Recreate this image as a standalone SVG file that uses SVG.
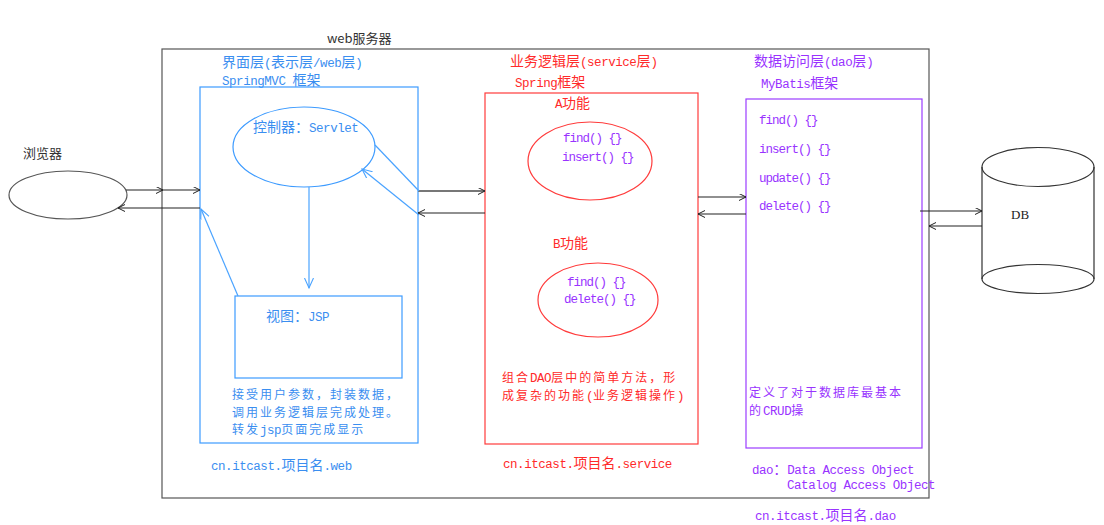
<svg xmlns="http://www.w3.org/2000/svg" width="1104" height="525" viewBox="0 0 1104 525">
<style>
.z{font-family:"Noto Sans CJK SC","Liberation Mono",sans-serif;font-size:14px}
.z tspan.a{font-family:"Liberation Mono",monospace;font-size:12.5px;letter-spacing:-0.45px}
.zt{font-size:12px;letter-spacing:2px}
.m{font-family:"Liberation Mono","Noto Sans CJK SC",monospace;font-size:12.5px;letter-spacing:-1px;fill:#9933ff}
.s{font-family:"Noto Sans CJK SC","Liberation Sans",sans-serif;font-size:13px;fill:#333}
.blue{fill:#3a8ef0}
.red{fill:#ff2a2a}
.pur{fill:#9933ff}
.bb{fill:none;stroke:#3d9bff;stroke-width:1.2}
.rb{fill:none;stroke:#ff3b3b;stroke-width:1.2}
.pb{fill:none;stroke:#9b3dff;stroke-width:1.2}
.gb{fill:none;stroke:#555;stroke-width:1.2}
.k{fill:none;stroke:#222;stroke-width:1.2}
.kg{fill:none;stroke:#777;stroke-width:2}
.bl{fill:none;stroke:#4aa3ff;stroke-width:1.2}
</style>
<defs>
<marker id="ak" markerWidth="9" markerHeight="9" refX="7" refY="3.5" orient="auto" markerUnits="userSpaceOnUse"><path d="M0,0 L7,3.5 L0,7" fill="none" stroke="#222" stroke-width="1"/></marker>
<marker id="ab" markerWidth="12" markerHeight="12" refX="10" refY="4.5" orient="auto" markerUnits="userSpaceOnUse"><path d="M0,0 L10,4.5 L0,9" fill="none" stroke="#4aa3ff" stroke-width="1.1"/></marker>
</defs>
<rect width="1104" height="525" fill="#fff"/>

<g id="server">
<rect class="gb" x="162" y="49" width="767" height="449"/>
<text class="s" x="327" y="43">web服务器</text>
</g>

<g id="browser">
<ellipse class="gb" cx="68" cy="195" rx="59" ry="24"/>
<text class="s" x="23" y="158">浏览器</text>
</g>

<g id="web-layer">
<text class="z blue" x="222" y="67">界面层<tspan class="a">(</tspan>表示层<tspan class="a">/web</tspan>层<tspan class="a">)</tspan></text>
<text class="z blue" x="222" y="85"><tspan class="a">SpringMVC </tspan>框架</text>
<rect class="bb" x="200" y="87" width="218" height="356"/>
<text class="z zt blue" x="232" y="399">接受用户参数，封装数据，</text>
<text class="z zt blue" x="232" y="416.5">调用业务逻辑层完成处理。</text>
<text class="z zt blue" x="232" y="434">转发<tspan class="a">jsp</tspan>页面完成显示</text>
<text class="z blue" x="211" y="470"><tspan class="a">cn.itcast.</tspan>项目名<tspan class="a">.web</tspan></text>
</g>

<g id="controller">
<ellipse class="bb" cx="304" cy="147" rx="71" ry="40"/>
<text class="z blue" x="253" y="132">控制器：<tspan class="a">Servlet</tspan></text>
</g>

<g id="view">
<rect class="bb" x="235" y="296" width="167" height="82"/>
<text class="z blue" x="266" y="321">视图：<tspan class="a">JSP</tspan></text>
</g>

<g id="service-layer">
<text class="z red" x="510" y="66">业务逻辑层<tspan class="a">(service</tspan>层<tspan class="a">)</tspan></text>
<text class="z red" x="515" y="87"><tspan class="a">Spring</tspan>框架</text>
<rect class="rb" x="485" y="93" width="213" height="351"/>
<text class="z zt red" x="502" y="382">组合<tspan class="a">DAO</tspan>层中的简单方法，形</text>
<text class="z zt red" x="502" y="399.5">成复杂的功能<tspan class="a">(</tspan>业务逻辑操作<tspan class="a">)</tspan></text>
<text class="z red" x="503" y="468"><tspan class="a">cn.itcast.</tspan>项目名<tspan class="a">.service</tspan></text>
</g>

<g id="func-a">
<text class="z red" x="555" y="108"><tspan class="a">A</tspan>功能</text>
<ellipse class="rb" cx="590" cy="161" rx="62" ry="39"/>
<text class="m" x="563" y="142">find() {}</text>
<text class="m" x="562" y="161">insert() {}</text>
</g>

<g id="func-b">
<text class="z red" x="553" y="248"><tspan class="a">B</tspan>功能</text>
<ellipse class="rb" cx="598" cy="300" rx="60" ry="37"/>
<text class="m" x="567" y="286">find() {}</text>
<text class="m" x="564" y="303">delete() {}</text>
</g>

<g id="dao-layer">
<text class="z pur" x="754" y="66">数据访问层<tspan class="a">(dao</tspan>层<tspan class="a">)</tspan></text>
<text class="z pur" x="761" y="88"><tspan class="a">MyBatis</tspan>框架</text>
<rect class="pb" x="746" y="99" width="176" height="349"/>
<text class="m" x="759" y="124">find() {}</text>
<text class="m" x="759" y="153">insert() {}</text>
<text class="m" x="759" y="182">update() {}</text>
<text class="m" x="759" y="210">delete() {}</text>
<text class="z zt pur" x="749" y="397">定义了对于数据库最基本</text>
<text class="z zt pur" x="749" y="414.5">的<tspan class="a">CRUD</tspan>操</text>
<text class="z pur" x="752" y="474"><tspan class="a">dao</tspan>：<tspan class="a">Data Access Object</tspan></text>
<text class="z pur" x="787" y="489"><tspan class="a">Catalog Access Object</tspan></text>
<text class="z pur" x="755" y="520"><tspan class="a">cn.itcast.</tspan>项目名<tspan class="a">.dao</tspan></text>
</g>

<g id="db">
<ellipse fill="none" stroke="#333" stroke-width="1.2" cx="1038" cy="167" rx="56" ry="19.5"/>
<path fill="none" stroke="#333" stroke-width="1.2" d="M982,167 L982,279 M1094,167 L1094,279"/>
<ellipse fill="none" stroke="#333" stroke-width="1.2" cx="1038" cy="279" rx="56" ry="14.5"/>
<text x="1011" y="219" font-family="Liberation Serif,serif" font-size="13" fill="#222">DB</text>
</g>

<g id="connectors">
<line class="k" x1="126" y1="190" x2="163" y2="190" marker-end="url(#ak)"/>
<line class="k" x1="163" y1="190" x2="200" y2="190" marker-end="url(#ak)"/>
<line class="k" x1="200" y1="208" x2="118" y2="208" marker-end="url(#ak)"/>
<line class="kg" x1="418" y1="191" x2="485" y2="191" marker-end="url(#ak)"/>
<line class="k" x1="485" y1="213" x2="418" y2="213" marker-end="url(#ak)"/>
<line class="k" x1="698" y1="197" x2="746" y2="197" marker-end="url(#ak)"/>
<line class="k" x1="746" y1="214" x2="698" y2="214" marker-end="url(#ak)"/>
<line class="k" x1="920" y1="211" x2="982" y2="211" marker-end="url(#ak)"/>
<line class="k" x1="982" y1="226" x2="929" y2="226" marker-end="url(#ak)"/>
<line class="bl" x1="375" y1="145" x2="419" y2="191"/>
<line class="bl" x1="419" y1="215" x2="362" y2="169" marker-end="url(#ab)"/>
<line class="bl" x1="309" y1="187" x2="309" y2="288" marker-end="url(#ab)"/>
<line class="bl" x1="238" y1="296" x2="201" y2="209" marker-end="url(#ab)"/>
</g>
</svg>
